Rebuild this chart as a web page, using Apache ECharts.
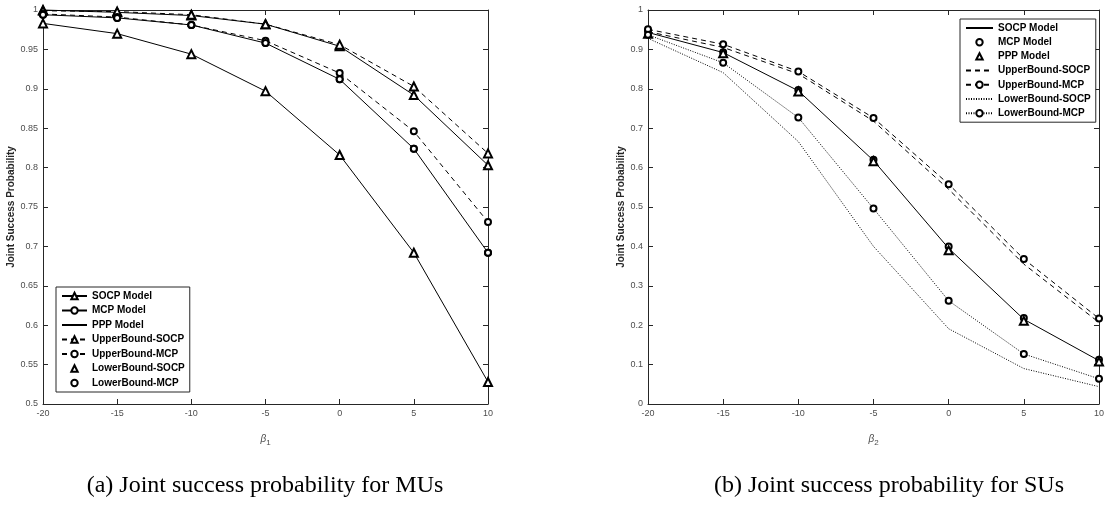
<!DOCTYPE html>
<html>
<head>
<meta charset="utf-8">
<script src="https://cdn.jsdelivr.net/npm/echarts@6/dist/echarts.min.js"></script>
<style>
  html, body { margin: 0; padding: 0; background: #fff; }
  #chart { width: 1107px; height: 519px; }
</style>
</head>
<body>
<div id="chart"></div>
<script>
// x values (beta)
const betaValues = [-20, -15, -10, -5, 0, 5, 10];

// (a) MUs
const muSocpModel = [1.0, 0.997, 0.993, 0.982, 0.954, 0.892, 0.803];
const muMcpModel = [0.994, 0.99, 0.981, 0.958, 0.912, 0.824, 0.692];
const muPppModel = [0.983, 0.97, 0.944, 0.897, 0.816, 0.692, 0.528];
const muUpperSocp = [0.999, 0.998, 0.994, 0.982, 0.956, 0.903, 0.818];
const muUpperMcp = [0.995, 0.991, 0.981, 0.961, 0.92, 0.846, 0.731];
const muLowerSocp = [0.983, 0.97, 0.944, 0.897, 0.816, 0.692, 0.528];
const muLowerMcp = [0.994, 0.99, 0.981, 0.958, 0.912, 0.824, 0.692];

// (b) SUs
const suSocpModel = [0.943, 0.892, 0.795, 0.618, 0.395, 0.215, 0.11];
const suMcpModel = [0.947, 0.893, 0.797, 0.62, 0.4, 0.218, 0.112];
const suPppModel = [0.94, 0.89, 0.793, 0.616, 0.39, 0.211, 0.108];
const suUpperSocp = [0.945, 0.905, 0.838, 0.718, 0.545, 0.355, 0.207];
const suUpperMcp = [0.951, 0.913, 0.844, 0.726, 0.558, 0.368, 0.217];
const suLowerSocp = [0.928, 0.841, 0.666, 0.4, 0.191, 0.09, 0.044];
const suLowerMcp = [0.937, 0.866, 0.727, 0.496, 0.262, 0.127, 0.064];

const legendNames = ['SOCP Model', 'MCP Model', 'PPP Model', 'UpperBound-SOCP',
  'UpperBound-MCP', 'LowerBound-SOCP', 'LowerBound-MCP'];

const AXIS = '#262626';
const LABEL = '#4d4d4d';
const FONT = 'Liberation Sans, Arial, sans-serif';

const chart = echarts.init(document.getElementById('chart'));

const noMarker = {}; // series drawn without a marker, for the legend

function makeSeries(prefix, idx, name, values, symbol, lineType) {
  const noLine = lineType === null;
  if (symbol === 'none') noMarker[prefix + name] = true;
  return {
    type: 'line',
    name: prefix + name,
    xAxisIndex: idx,
    yAxisIndex: idx,
    data: betaValues.map((b, i) => [b, values[i]]),
    symbol: symbol,
    symbolSize: symbol === 'emptyTriangle' ? 8 : 6,
    showAllSymbol: true,
    clip: false,
    silent: true,
    color: '#000',
    itemStyle: { color: '#000', borderWidth: 1.2 },
    lineStyle: {
      color: '#000',
      width: 1,
      type: noLine ? 'solid' : lineType,
      opacity: noLine ? 0 : 1,
    },
    emphasis: { disabled: true },
  };
}

const series = [
  // left chart
  makeSeries('a:', 0, 'SOCP Model', muSocpModel, 'emptyTriangle', 'solid'),
  makeSeries('a:', 0, 'MCP Model', muMcpModel, 'emptyCircle', 'solid'),
  makeSeries('a:', 0, 'PPP Model', muPppModel, 'none', 'solid'),
  makeSeries('a:', 0, 'UpperBound-SOCP', muUpperSocp, 'emptyTriangle', [5, 4]),
  makeSeries('a:', 0, 'UpperBound-MCP', muUpperMcp, 'emptyCircle', [5, 4]),
  makeSeries('a:', 0, 'LowerBound-SOCP', muLowerSocp, 'emptyTriangle', null),
  makeSeries('a:', 0, 'LowerBound-MCP', muLowerMcp, 'emptyCircle', null),
  // right chart
  makeSeries('b:', 1, 'SOCP Model', suSocpModel, 'none', 'solid'),
  makeSeries('b:', 1, 'MCP Model', suMcpModel, 'emptyCircle', null),
  makeSeries('b:', 1, 'PPP Model', suPppModel, 'emptyTriangle', null),
  makeSeries('b:', 1, 'UpperBound-SOCP', suUpperSocp, 'none', [5, 4]),
  makeSeries('b:', 1, 'UpperBound-MCP', suUpperMcp, 'emptyCircle', [5, 4]),
  makeSeries('b:', 1, 'LowerBound-SOCP', suLowerSocp, 'none', [1, 1.5]),
  makeSeries('b:', 1, 'LowerBound-MCP', suLowerMcp, 'emptyCircle', [1, 1.5]),
];

function xAxis(gridIndex, top, nameText) {
  return {
    type: 'value',
    gridIndex,
    position: top ? 'top' : 'bottom',
    min: -20,
    max: 10,
    interval: 5,
    name: top ? '' : nameText,
    nameLocation: 'middle',
    nameGap: 27,
    nameTextStyle: {
      rich: {
        b: { fontFamily: FONT, fontStyle: 'italic', fontSize: 10, color: LABEL },
        s: { fontFamily: FONT, fontSize: 8, color: LABEL, verticalAlign: 'bottom', padding: [8, 0, 0, 0] },
      },
    },
    axisLine: { show: true, onZero: false, lineStyle: { color: AXIS, width: 1 } },
    axisTick: { show: true, inside: true, length: 5, lineStyle: { color: AXIS } },
    axisLabel: { show: !top, color: LABEL, fontSize: 9, fontFamily: FONT, margin: 5 },
    splitLine: { show: false },
  };
}

function yAxis(gridIndex, right, min, interval, gap) {
  return {
    type: 'value',
    gridIndex,
    position: right ? 'right' : 'left',
    min,
    max: 1,
    interval,
    name: right ? '' : 'Joint Success Probability',
    nameLocation: 'middle',
    nameGap: gap,
    nameTextStyle: { fontFamily: FONT, fontWeight: 'bold', fontSize: 10, color: AXIS },
    axisLine: { show: true, onZero: false, lineStyle: { color: AXIS, width: 1 } },
    axisTick: { show: true, inside: true, length: 5, lineStyle: { color: AXIS } },
    axisLabel: { show: !right, color: LABEL, fontSize: 9, fontFamily: FONT, margin: 5 },
    splitLine: { show: false },
  };
}

function legend(prefix, left, top, itemWidth, gap) {
  return {
    left,
    top,
    orient: 'vertical',
    data: legendNames.map((n) => {
      const full = prefix + n;
      return noMarker[full] ? { name: full, itemStyle: { opacity: 0 } } : { name: full };
    }),
    formatter: (name) => name.slice(2),
    itemWidth,
    itemHeight: 8,
    itemGap: gap,
    padding: [4, 5, 4, 5],
    borderColor: AXIS,
    borderWidth: 1,
    backgroundColor: '#fff',
    selectedMode: false,
    textStyle: { fontFamily: FONT, fontWeight: 'bold', fontSize: 10, color: '#000' },
  };
}

chart.setOption({
  animation: false,
  backgroundColor: '#fff',
  grid: [
    { left: 43, right: 619, top: 10, bottom: 115 },
    { left: 648, right: 1, top: 10, bottom: 115 },
  ],
  xAxis: [
    xAxis(0, false, '{b|β}{s|1}'),
    xAxis(1, false, '{b|β}{s|2}'),
    xAxis(0, true, ''),
    xAxis(1, true, ''),
  ],
  yAxis: [
    yAxis(0, false, 0.5, 0.05, 27),
    yAxis(1, false, 0, 0.1, 22),
    yAxis(0, true, 0.5, 0.05, 0),
    yAxis(1, true, 0, 0.1, 0),
  ],
  legend: [legend('a:', 56, 287, 25, 4.5), legend('b:', 960, 19, 27, 4.2)],
  series,
  graphic: [
    {
      type: 'text',
      style: {
        x: 265, y: 486, text: '(a) Joint success probability for MUs',
        font: '24px "Liberation Serif", "Times New Roman", serif',
        fill: '#000', textAlign: 'center', textVerticalAlign: 'middle',
      },
    },
    {
      type: 'text',
      style: {
        x: 889, y: 486, text: '(b) Joint success probability for SUs',
        font: '24px "Liberation Serif", "Times New Roman", serif',
        fill: '#000', textAlign: 'center', textVerticalAlign: 'middle',
      },
    },
  ],
});
</script>
</body>
</html>
